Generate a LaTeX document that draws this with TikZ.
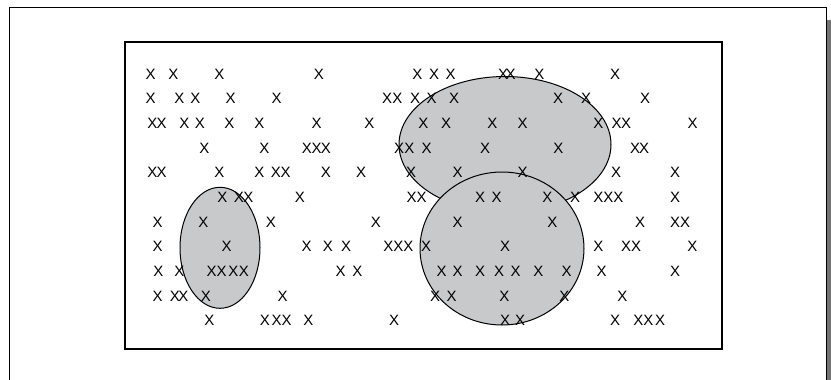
\documentclass[tikz,border=0pt]{standalone}
\usepackage{fontspec}
\setmainfont{Liberation Sans}
\definecolor{ovalgray}{RGB}{200,201,203}
\tikzset{
  cross/.style={inner sep=0pt,font=\fontsize{15}{17}\selectfont},
  oval/.style={draw=black,fill=ovalgray,line width=1pt}
}
\begin{document}
\begin{tikzpicture}[x=1pt,y=-1pt]
  \useasboundingbox (0,0) rectangle (831,380);
  % page frame with shadow on the right
  \draw[line width=1pt] (9,380) -- (9,7) -- (826,7) -- (826,380);
  \fill[black!55] (826.5,20) rectangle (830.5,380);
  % the field
  \draw[line width=2pt] (125,42) rectangle (722,349);
  % clusters
  \draw[oval] (505,144.5) ellipse [x radius=106pt, y radius=68pt];
  \draw[oval] (502,248.5) ellipse [x radius=82pt, y radius=76.5pt];
  \draw[oval] (220,247.8) ellipse [x radius=40pt, y radius=60.5pt];
  % points, one row at a time
  \foreach \r/\xs in {
    1/{150.7,173.3,219.3,319,417.3,434,450.7,503,510.5,539.3,615},
    2/{150.7,179.3,195.3,230.7,276.7,387,397.3,415,431.7,454,558,586,645},
    3/{152.3,161.7,184.3,200,229.3,259.3,316.7,369.3,423.3,446,492.3,522.5,598.3,616.7,626,692.7},
    4/{204.3,264.3,307,316.5,326,399,409.3,426.7,485,558.3,635,644},
    5/{152.3,161.7,219.3,259.3,276,285.7,326,361,411,457.7,522.7,616,675},
    6/{222.3,239,248.3,300,411.7,421.7,480,496.7,547.3,575,598.3,608.3,618.3,675},
    7/{157.7,203.3,271,376,457.7,552.3,640,675,685},
    8/{157.7,226.7,306.7,328,346,388.3,398.3,408.3,426,505,598.3,626,636,692.3},
    9/{158.3,179.3,211.7,221.7,233.3,244,340.7,357.3,441.7,457.7,480,499,515.7,538.3,566.7,601.7,675},
    10/{157.7,175,183.3,206,282.7,435,451.7,504.3,564.3,622.3},
    11/{209.3,265,276.7,286.7,308.3,394,505,520,615,638.3,648.3,660}}
  {
    \foreach \x [count=\i] in \xs
      \node[cross] (x\r-\i) at ({\x},{74+24.65*(\r-1)}) {X};
  }
\end{tikzpicture}
\end{document}
